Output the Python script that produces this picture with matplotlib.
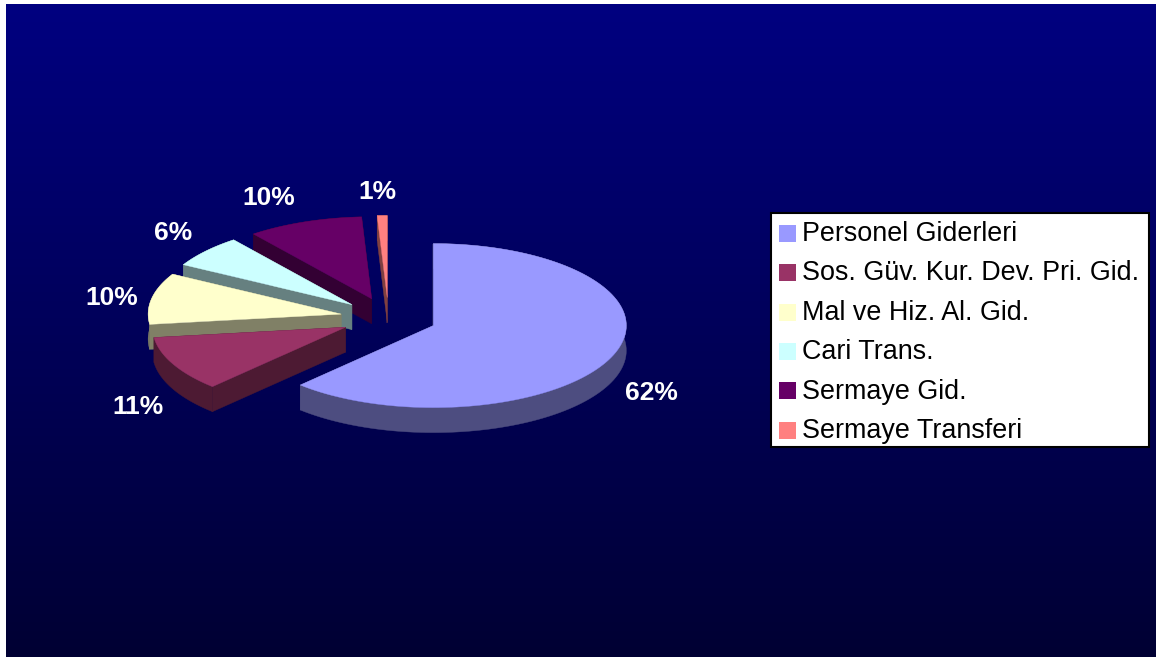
import numpy as np
import matplotlib
matplotlib.use('Agg')
import matplotlib.pyplot as plt
from matplotlib.patches import Polygon, Rectangle

# Data (labels show them rounded)
categories = ['Personel Giderleri', 'Sos. Güv. Kur. Dev. Pri. Gid.', 'Mal ve Hiz. Al. Gid.',
              'Cari Trans.', 'Sermaye Gid.', 'Sermaye Transferi']
values = [62.1, 10.9, 10.1, 6.4, 9.67, 0.83]
colors = ['#9999FF', '#993366', '#FFFFCC', '#CCFFFF', '#660066', '#FF8080']
side_colors = ['#4D4D80', '#4D1A33', '#808066', '#668080', '#330033', '#804040']

# Pie geometry in pixels
cx, cy = 388.5, 318
rx, ry = 193, 82
depth = 25
explode = 0.25
draw_order = [4, 5, 3, 2, 1, 0]
label_pos = [(651, 393), (138, 407), (112, 298), (173, 233), (269, 198), (377, 192)]

plt.rcParams['font.family'] = ['Liberation Sans', 'DejaVu Sans']

fig = plt.figure(figsize=(11.56, 6.57), dpi=100)
ax = fig.add_axes([0, 0, 1, 1])

# Background gradient
grad = np.zeros((256, 1, 3))
grad[:, 0, 2] = np.linspace(128, 51, 256) / 255
ax.imshow(grad, extent=(6, 1156, 657, 4), aspect='auto', zorder=0)
ax.set_xlim(0, 1156)
ax.set_ylim(657, 0)
ax.axis('off')

# Slice angles, clockwise from 12 o'clock
edges = 90 - 360 * np.cumsum([0] + values) / sum(values)

z = 2
for i in draw_order:
    a0, a1 = edges[i], edges[i + 1]
    mid = np.radians((a0 + a1) / 2)
    tip = np.array([cx + explode * rx * np.cos(mid), cy - explode * ry * np.sin(mid)])
    t = np.radians(np.linspace(a0, a1, 120))
    arc = np.column_stack([tip[0] + rx * np.cos(t), tip[1] - ry * np.sin(t)])
    down = np.array([0, depth])

    # radial walls, then the outer rim as one band
    for end in (arc[0], arc[-1]):
        ax.add_patch(Polygon([tip, end, end + down, tip + down], closed=True,
                             facecolor=side_colors[i], edgecolor=side_colors[i], lw=0.3, zorder=z))
    ax.add_patch(Polygon(np.vstack([arc, (arc + down)[::-1]]), closed=True,
                         facecolor=side_colors[i], edgecolor=side_colors[i], lw=0.3, zorder=z))
    ax.add_patch(Polygon(np.vstack([tip, arc]), closed=True, facecolor=colors[i],
                         edgecolor=colors[i], lw=0.3, zorder=z + 1))
    z += 2

# Percent labels
for v, (x, y) in zip(values, label_pos):
    ax.text(x, y, f'{round(v)}%', color='white', fontsize=19, fontweight='bold',
            ha='center', va='center', zorder=50)

# Legend box
ax.add_patch(Rectangle((770.5, 212.5), 378.5, 234.5, facecolor='white', edgecolor='black',
                       lw=1.5, zorder=60))
for i, (name, c) in enumerate(zip(categories, colors)):
    ax.add_patch(Rectangle((779, 225 + 39.35 * i), 17, 17, facecolor=c, edgecolor='none', zorder=61))
    ax.text(802, 241 + 39.4 * i, name, color='black', fontsize=19.35, ha='left', va='baseline', zorder=61)

fig.savefig('out.png', dpi=100, facecolor='white')
